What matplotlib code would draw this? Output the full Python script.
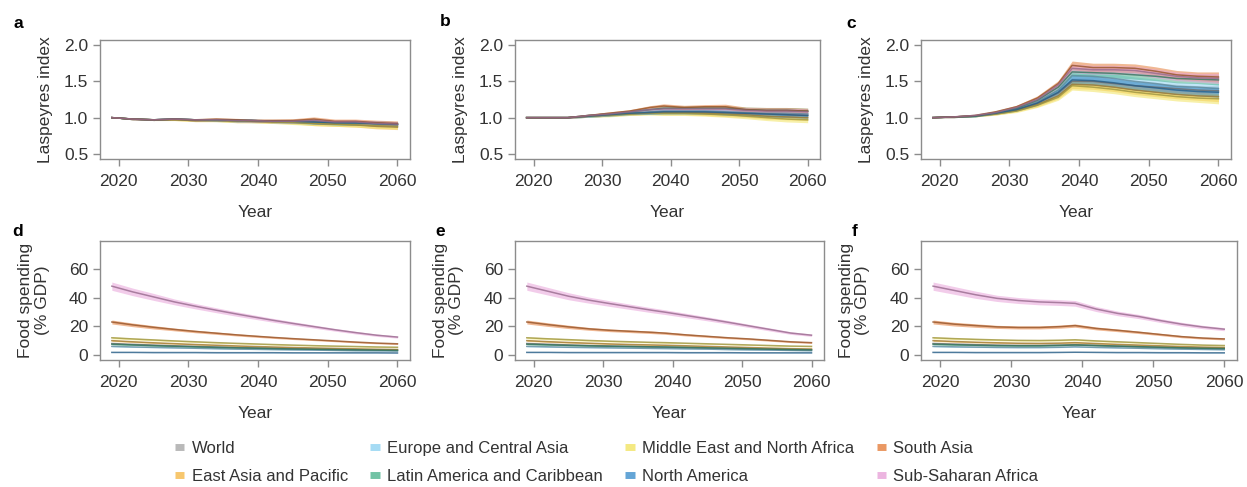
import numpy as np
import matplotlib.pyplot as plt
import matplotlib.colors as mcolors
from matplotlib.lines import Line2D

plt.rcParams['font.family'] = ['Liberation Sans', 'DejaVu Sans']

years = [2019, 2022, 2025, 2028, 2031, 2034, 2037, 2039, 2042, 2045, 2048, 2051, 2054, 2057, 2060]

regions = ['World', 'East Asia and Pacific', 'Europe and Central Asia',
           'Latin America and Caribbean', 'Middle East and North Africa',
           'North America', 'South Asia', 'Sub-Saharan Africa']
colors = ['#a8a8a8', '#f5b94a', '#8fd3f2', '#4fb58f', '#f2e463', '#3d8fcc', '#e57f3c', '#e8a3d9']

# Laspeyres index, scenario a
world_a = [1.00, 0.98, 0.97, 0.98, 0.97, 0.97, 0.96, 0.96, 0.95, 0.95, 0.94, 0.93, 0.93, 0.91, 0.90]
east_asia_a = [1.00, 0.98, 0.97, 0.97, 0.96, 0.96, 0.95, 0.95, 0.94, 0.94, 0.92, 0.91, 0.90, 0.88, 0.87]
europe_a = [1.00, 0.98, 0.97, 0.98, 0.97, 0.96, 0.96, 0.95, 0.95, 0.94, 0.94, 0.93, 0.92, 0.91, 0.90]
latin_a = [1.00, 0.98, 0.97, 0.98, 0.97, 0.97, 0.96, 0.96, 0.95, 0.95, 0.95, 0.93, 0.93, 0.92, 0.91]
mena_a = [1.00, 0.98, 0.97, 0.97, 0.96, 0.96, 0.95, 0.95, 0.94, 0.93, 0.92, 0.91, 0.90, 0.89, 0.88]
north_am_a = [1.00, 0.98, 0.97, 0.98, 0.97, 0.97, 0.96, 0.96, 0.95, 0.95, 0.94, 0.93, 0.93, 0.92, 0.91]
south_asia_a = [1.00, 0.98, 0.97, 0.98, 0.97, 0.98, 0.97, 0.96, 0.96, 0.96, 0.98, 0.95, 0.95, 0.93, 0.92]
ssa_a = [1.00, 0.98, 0.97, 0.98, 0.97, 0.97, 0.96, 0.96, 0.95, 0.95, 0.96, 0.94, 0.94, 0.92, 0.91]
band_a = [0.0, 0.01, 0.01, 0.01, 0.015, 0.015, 0.02, 0.02, 0.02, 0.025, 0.03, 0.03, 0.03, 0.035, 0.035]

# Laspeyres index, scenario b
world_b = [1.00, 1.00, 1.00, 1.02, 1.04, 1.06, 1.07, 1.08, 1.08, 1.07, 1.07, 1.06, 1.05, 1.04, 1.03]
east_asia_b = [1.00, 1.00, 1.00, 1.02, 1.04, 1.05, 1.07, 1.07, 1.07, 1.06, 1.05, 1.04, 1.02, 1.01, 1.00]
europe_b = [1.00, 1.00, 1.00, 1.02, 1.04, 1.06, 1.08, 1.09, 1.09, 1.09, 1.08, 1.07, 1.06, 1.06, 1.05]
latin_b = [1.00, 1.00, 1.00, 1.03, 1.05, 1.08, 1.11, 1.13, 1.13, 1.13, 1.13, 1.11, 1.10, 1.10, 1.09]
mena_b = [1.00, 1.00, 1.00, 1.02, 1.03, 1.05, 1.06, 1.06, 1.06, 1.05, 1.04, 1.02, 1.00, 0.98, 0.97]
north_am_b = [1.00, 1.00, 1.00, 1.02, 1.04, 1.06, 1.07, 1.08, 1.08, 1.08, 1.07, 1.06, 1.05, 1.04, 1.03]
south_asia_b = [1.00, 1.00, 1.00, 1.03, 1.06, 1.09, 1.14, 1.16, 1.14, 1.15, 1.15, 1.11, 1.10, 1.10, 1.09]
ssa_b = [1.00, 1.00, 1.00, 1.03, 1.05, 1.08, 1.11, 1.12, 1.12, 1.12, 1.12, 1.10, 1.09, 1.09, 1.08]
band_b = [0.0, 0.01, 0.01, 0.015, 0.02, 0.02, 0.025, 0.03, 0.03, 0.03, 0.035, 0.035, 0.04, 0.04, 0.04]

# Laspeyres index, scenario c
world_c = [1.00, 1.01, 1.02, 1.06, 1.11, 1.20, 1.34, 1.50, 1.50, 1.47, 1.44, 1.42, 1.40, 1.38, 1.37]
east_asia_c = [1.00, 1.01, 1.02, 1.05, 1.10, 1.18, 1.30, 1.46, 1.45, 1.42, 1.38, 1.35, 1.32, 1.30, 1.29]
europe_c = [1.00, 1.01, 1.02, 1.06, 1.12, 1.22, 1.38, 1.58, 1.57, 1.54, 1.50, 1.47, 1.43, 1.42, 1.40]
latin_c = [1.00, 1.01, 1.02, 1.07, 1.13, 1.24, 1.42, 1.63, 1.62, 1.61, 1.59, 1.57, 1.54, 1.53, 1.52]
mena_c = [1.00, 1.01, 1.02, 1.05, 1.09, 1.17, 1.28, 1.44, 1.42, 1.39, 1.35, 1.32, 1.29, 1.27, 1.26]
north_am_c = [1.00, 1.01, 1.02, 1.06, 1.11, 1.20, 1.35, 1.52, 1.51, 1.48, 1.44, 1.41, 1.38, 1.36, 1.35]
south_asia_c = [1.00, 1.01, 1.03, 1.08, 1.15, 1.27, 1.47, 1.72, 1.69, 1.69, 1.68, 1.64, 1.59, 1.57, 1.56]
ssa_c = [1.00, 1.01, 1.03, 1.07, 1.14, 1.25, 1.45, 1.68, 1.66, 1.66, 1.65, 1.61, 1.57, 1.55, 1.54]
band_c = [0.0, 0.01, 0.01, 0.015, 0.02, 0.03, 0.04, 0.06, 0.06, 0.06, 0.06, 0.06, 0.06, 0.06, 0.07]

# Food spending (% GDP), scenario d
world_d = [8.0, 7.4, 6.9, 6.4, 6.0, 5.6, 5.2, 5.0, 4.7, 4.4, 4.1, 3.9, 3.7, 3.5, 3.4]
east_asia_d = [10.0, 9.2, 8.5, 7.9, 7.3, 6.8, 6.3, 6.0, 5.6, 5.2, 4.9, 4.6, 4.3, 4.0, 3.8]
europe_d = [6.0, 5.6, 5.3, 5.0, 4.7, 4.4, 4.1, 4.0, 3.8, 3.6, 3.4, 3.2, 3.0, 2.9, 2.8]
latin_d = [7.5, 7.0, 6.5, 6.1, 5.7, 5.3, 5.0, 4.8, 4.5, 4.2, 4.0, 3.8, 3.6, 3.4, 3.2]
mena_d = [12.0, 11.2, 10.5, 9.8, 9.2, 8.6, 8.1, 7.8, 7.3, 6.9, 6.5, 6.2, 5.9, 5.6, 5.4]
north_am_d = [1.8, 1.8, 1.7, 1.7, 1.7, 1.6, 1.6, 1.6, 1.6, 1.5, 1.5, 1.5, 1.5, 1.5, 1.4]
south_asia_d = [23.0, 21.0, 19.3, 17.8, 16.4, 15.2, 14.0, 13.3, 12.3, 11.4, 10.6, 9.8, 9.0, 8.3, 7.8]
ssa_d = [48.0, 44.0, 40.5, 37.0, 34.0, 31.2, 28.5, 26.8, 24.3, 22.0, 19.8, 17.6, 15.6, 13.8, 12.5]

# Food spending (% GDP), scenario e
world_e = [8.0, 7.5, 7.0, 6.6, 6.3, 6.0, 5.7, 5.5, 5.2, 4.9, 4.6, 4.3, 4.0, 3.8, 3.6]
east_asia_e = [10.0, 9.3, 8.7, 8.2, 7.7, 7.3, 7.0, 6.8, 6.4, 6.0, 5.6, 5.2, 4.8, 4.4, 4.2]
europe_e = [6.0, 5.7, 5.4, 5.2, 5.0, 4.8, 4.6, 4.5, 4.3, 4.1, 3.8, 3.6, 3.4, 3.2, 3.0]
latin_e = [7.5, 7.1, 6.7, 6.4, 6.1, 5.9, 5.7, 5.6, 5.3, 5.0, 4.7, 4.4, 4.1, 3.8, 3.6]
mena_e = [12.0, 11.3, 10.7, 10.1, 9.6, 9.2, 8.8, 8.6, 8.2, 7.8, 7.4, 7.0, 6.6, 6.2, 6.0]
north_am_e = [1.8, 1.8, 1.7, 1.7, 1.7, 1.7, 1.7, 1.7, 1.6, 1.6, 1.6, 1.5, 1.5, 1.5, 1.5]
south_asia_e = [23.0, 21.2, 19.6, 18.2, 17.2, 16.5, 15.8, 15.2, 14.0, 13.0, 12.0, 11.2, 10.2, 9.2, 8.6]
ssa_e = [48.0, 44.5, 41.0, 38.2, 35.8, 33.5, 31.2, 29.8, 27.5, 25.2, 22.8, 20.3, 17.8, 15.3, 13.8]

# Food spending (% GDP), scenario f
world_f = [8.0, 7.6, 7.2, 6.9, 6.7, 6.7, 6.9, 7.2, 6.7, 6.2, 5.8, 5.4, 5.0, 4.7, 4.5]
east_asia_f = [10.0, 9.4, 8.9, 8.5, 8.2, 8.1, 8.3, 8.6, 8.0, 7.4, 6.9, 6.4, 5.9, 5.5, 5.2]
europe_f = [6.0, 5.7, 5.5, 5.3, 5.2, 5.2, 5.4, 5.7, 5.3, 5.0, 4.7, 4.4, 4.1, 3.9, 3.7]
latin_f = [7.5, 7.1, 6.8, 6.5, 6.4, 6.4, 6.7, 7.0, 6.6, 6.2, 5.8, 5.4, 5.0, 4.7, 4.5]
mena_f = [12.0, 11.4, 10.9, 10.5, 10.2, 10.1, 10.3, 10.6, 9.8, 9.2, 8.6, 8.0, 7.4, 6.9, 6.6]
north_am_f = [1.8, 1.8, 1.7, 1.7, 1.7, 1.7, 1.8, 1.9, 1.8, 1.7, 1.7, 1.6, 1.6, 1.5, 1.5]
south_asia_f = [23.0, 21.5, 20.5, 19.6, 19.2, 19.2, 19.8, 20.5, 18.5, 17.2, 15.8, 14.3, 12.8, 11.8, 11.2]
ssa_f = [48.0, 45.0, 42.0, 39.5, 38.0, 37.0, 36.5, 36.0, 32.0, 29.0, 26.8, 24.0, 21.5, 19.5, 18.0]

# relative half-width of the uncertainty ribbon in the spending panels
rel_band_spend = [0.06, 0.06, 0.06, 0.055, 0.055, 0.055, 0.055, 0.055, 0.055, 0.055, 0.055, 0.055, 0.06, 0.06, 0.06]

panels = [
    ('a', [world_a, east_asia_a, europe_a, latin_a, mena_a, north_am_a, south_asia_a, ssa_a], band_a, None),
    ('b', [world_b, east_asia_b, europe_b, latin_b, mena_b, north_am_b, south_asia_b, ssa_b], band_b, None),
    ('c', [world_c, east_asia_c, europe_c, latin_c, mena_c, north_am_c, south_asia_c, ssa_c], band_c, None),
    ('d', [world_d, east_asia_d, europe_d, latin_d, mena_d, north_am_d, south_asia_d, ssa_d], None, rel_band_spend),
    ('e', [world_e, east_asia_e, europe_e, latin_e, mena_e, north_am_e, south_asia_e, ssa_e], None, rel_band_spend),
    ('f', [world_f, east_asia_f, europe_f, latin_f, mena_f, north_am_f, south_asia_f, ssa_f], None, rel_band_spend),
]

W, H = 1247, 487
fig = plt.figure(figsize=(W / 100, H / 100), dpi=100)

# axes boxes in pixels: left, right, top, bottom
boxes = [(100, 410, 40, 159), (515, 820, 40, 159), (921, 1231, 40, 159),
         (100, 410, 241, 360), (515, 824, 241, 360), (921, 1237, 241, 360)]
letter_pos = [(13, 23), (440, 22), (846, 23), (12, 232), (435, 232), (852, 232)]

gray = '#8c8c8c'
txt = '#333333'
x = np.array(years)

for i, (letter, series, band, relband) in enumerate(panels):
    l, r, t, b = boxes[i]
    ax = fig.add_axes([l / W, 1 - b / H, (r - l) / W, (b - t) / H])
    for vals, c in zip(series, colors):
        v = np.array(vals)
        if band is not None:
            hw = np.array(band)
        else:
            hw = v * np.array(relband)
        ax.fill_between(x, v - hw, v + hw, color=c, alpha=0.55, lw=0)
        dark = np.array(mcolors.to_rgb(c)) * 0.65
        ax.plot(x, v, color=dark, lw=1.1, alpha=0.8)
    ax.set_xlim(2017.3, 2061.8)
    ax.set_xticks([2020, 2030, 2040, 2050, 2060])
    if i < 3:
        ax.set_ylim(0.43, 2.07)
        ax.set_yticks([0.5, 1.0, 1.5, 2.0])
        ax.set_yticklabels(['0.5', '1.0', '1.5', '2.0'])
        ax.set_ylabel('Laspeyres index', fontsize=12.5, color=txt, labelpad=8)
    else:
        ax.set_ylim(-3.5, 79.5)
        ax.set_yticks([0, 20, 40, 60])
        ax.set_ylabel('Food spending\n(% GDP)', fontsize=12.5, color=txt, labelpad=14,
                      linespacing=1.1)
    ax.set_xlabel('Year', fontsize=12.5, color=txt, labelpad=11)
    for s in ax.spines.values():
        s.set_color(gray)
        s.set_linewidth(1.0)
    ax.tick_params(colors=gray, labelcolor=txt, labelsize=12.5, length=5, width=1.0)
    ax.tick_params(axis='x', pad=6)
    fig.text(letter_pos[i][0] / W, 1 - letter_pos[i][1] / H, letter, fontsize=12.5,
             fontweight='bold', ha='left', va='center', color='black')

handles = [Line2D([0], [0], color=c, lw=5, alpha=0.8, solid_capstyle='butt') for c in colors]
fig.legend(handles, regions, loc='center left', bbox_to_anchor=(175 / W, 1 - 462.5 / H), ncol=4,
           frameon=False, fontsize=12, handlelength=0.55, handletextpad=0.45,
           columnspacing=1.35, labelspacing=0.8, labelcolor=txt,
           borderpad=0, borderaxespad=0)

fig.savefig('out.png', dpi=100)
